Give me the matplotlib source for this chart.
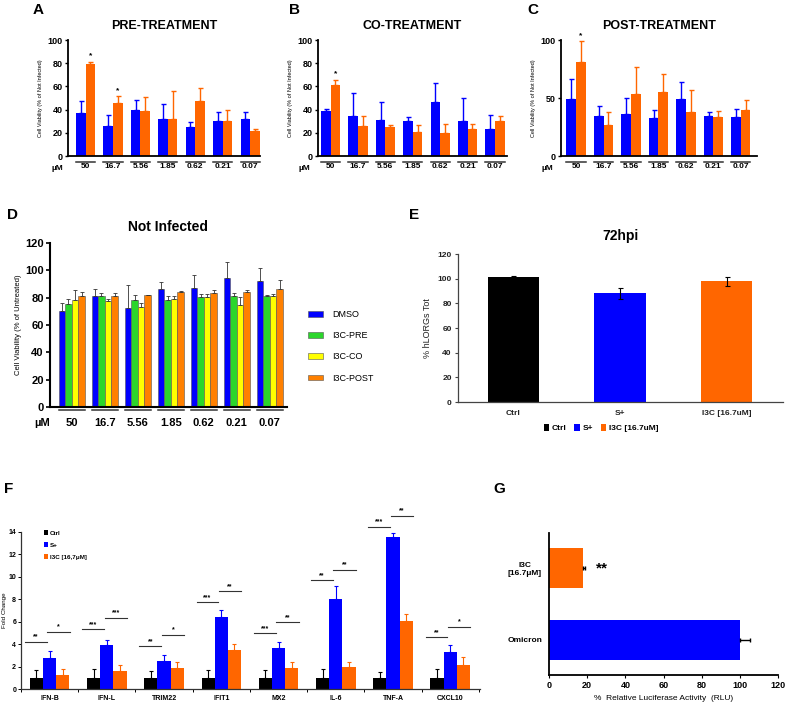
import matplotlib
matplotlib.use('Agg')
import matplotlib.pyplot as plt
from matplotlib.patches import Patch
import numpy as np

plt.rcParams['font.family'] = ['Liberation Sans', 'DejaVu Sans']
plt.rcParams['font.weight'] = 'bold'

# ---------------- data ----------------
conc_labels = ['50', '16.7', '5.56', '1.85', '0.62', '0.21', '0.07']

pre_dmso = [37.4, 26.0, 39.7, 31.7, 24.9, 30.3, 32.0]
pre_dmso_err = [9.7, 9.1, 8.3, 12.9, 4.8, 7.4, 5.7]
pre_i3c = [79.1, 45.7, 38.9, 32.0, 47.4, 30.3, 21.7]
pre_i3c_err = [2.0, 5.7, 12.2, 24.0, 11.2, 9.4, 1.2]
pre_stars = [0, 1]

co_dmso = [38.6, 34.9, 30.9, 30.0, 46.3, 30.3, 23.4]
co_dmso_err = [2.3, 19.1, 15.7, 3.4, 16.6, 20.0, 12.3]
co_i3c = [60.9, 25.7, 25.1, 20.6, 20.0, 23.1, 30.6]
co_i3c_err = [4.8, 9.2, 1.2, 6.5, 7.4, 4.9, 3.7]
co_stars = [0]

post_dmso = [49.1, 34.9, 36.6, 32.9, 48.9, 34.6, 33.7]
post_dmso_err = [17.5, 8.5, 13.4, 7.1, 14.8, 3.1, 7.2]
post_i3c = [81.4, 26.6, 53.7, 54.9, 38.0, 33.4, 40.0]
post_i3c_err = [17.5, 11.1, 23.4, 16.2, 18.6, 5.7, 8.6]
post_stars = [0]

ni_names = ['DMSO', 'I3C-PRE', 'I3C-CO', 'I3C-POST']
ni_dmso = [70.2, 81.5, 72.7, 86.6, 87.1, 94.1, 92.2]
ni_dmso_err = [5.9, 4.6, 16.3, 4.9, 9.2, 12.0, 9.8]
ni_pre = [75.4, 81.0, 78.0, 78.5, 80.7, 81.0, 81.2]
ni_pre_err = [3.4, 2.7, 3.7, 2.5, 2.2, 2.4, 0.5]
ni_co = [78.5, 77.6, 73.2, 78.8, 80.7, 74.6, 81.0]
ni_co_err = [7.4, 1.7, 2.9, 2.7, 2.0, 5.9, 1.4]
ni_post = [81.5, 81.0, 82.0, 84.4, 83.4, 83.9, 86.6]
ni_post_err = [2.4, 2.2, 0.3, 0.3, 2.0, 1.7, 6.3]

e_groups = ['Ctrl', 'S+', 'I3C [16.7uM]']
e_vals = [101.0, 88.0, 98.0]
e_err = [1.2, 4.8, 3.7]

genes = ['IFN-B', 'IFN-L', 'TRIM22', 'IFIT1', 'MX2', 'IL-6', 'TNF-A', 'CXCL10']
f_names = ['Ctrl', 'S+', 'I3C [16,7\u03bcM]']
f_ctrl = [1.0, 1.0, 1.0, 1.0, 1.0, 1.0, 1.0, 1.0]
f_ctrl_err = [0.65, 0.8, 0.6, 0.7, 0.65, 0.8, 0.55, 0.8]
f_splus = [2.75, 3.88, 2.46, 6.42, 3.64, 8.05, 13.55, 3.34]
f_splus_err = [0.62, 0.5, 0.53, 0.62, 0.56, 1.12, 0.38, 0.62]
f_i3c = [1.24, 1.6, 1.86, 3.46, 1.89, 1.92, 6.04, 2.13]
f_i3c_err = [0.56, 0.5, 0.51, 0.54, 0.51, 0.48, 0.65, 0.68]
sig_left = ['**', '***', '**', '***', '***', '**', '***', '**']
sig_right = ['*', '***', '*', '**', '**', '**', '**', '*']
sig_left_y = [4.23, 5.33, 3.79, 7.72, 4.97, 9.7, 14.44, 4.62]
sig_right_y = [5.12, 6.33, 4.82, 8.73, 5.95, 10.62, 15.47, 5.53]

g_labels = ['Omicron', 'I3C\n[16.7\u03bcM]']
g_vals = [100.0, 18.0]
g_err = [5.5, 0.7]

BLUE = '#0000FF'
ORANGE = '#FF6600'
ORANGE_D = '#FF8000'
GREEN = '#2BD62B'
YELLOW = '#FFFF00'

W, H = 788, 703
fig = plt.figure(figsize=(W / 100, H / 100), dpi=100)


def box(x0, x1, y0, y1):
    # pixel box -> figure fraction
    return [x0 / W, 1 - y1 / H, (x1 - x0) / W, (y1 - y0) / H]


def letter(x, y, s):
    fig.text(x / W, 1 - y / H, s, fontsize=11, fontweight='bold', ha='center', va='center')


def style_spines(ax, lw=1.3, color='black'):
    for s in ['top', 'right']:
        ax.spines[s].set_visible(False)
    for s in ['left', 'bottom']:
        ax.spines[s].set_linewidth(lw)
        ax.spines[s].set_color(color)


# ---------------- A, B, C ----------------
def treat_panel(rect, title, dmso, dmso_err, i3c, i3c_err, stars, xlim, yticks, tx):
    ax = fig.add_axes(rect)
    x = np.arange(len(conc_labels))
    w = 0.35
    ax.bar(x - w / 2, dmso, w, color=BLUE,
           yerr=[np.zeros(7), dmso_err], error_kw=dict(ecolor=BLUE, elinewidth=1, capsize=1.8, capthick=1))
    ax.bar(x + w / 2, i3c, w, color=ORANGE,
           yerr=[np.zeros(7), i3c_err], error_kw=dict(ecolor=ORANGE, elinewidth=1, capsize=1.8, capthick=1))
    for i in stars:
        ax.text(x[i] + w / 2, i3c[i] + i3c_err[i] + 5, '*', ha='center', va='center', fontsize=6)
    ax.set_xlim(*xlim)
    ax.set_ylim(0, 100)
    ax.set_yticks(yticks)
    ax.set_xticks(x)
    ax.set_xticklabels(conc_labels)
    ax.tick_params(axis='x', length=0, pad=5, labelsize=6)
    ax.tick_params(axis='y', length=2.5, width=1, labelsize=6.5, pad=1.5)
    style_spines(ax)
    ax.set_ylabel('Cell Viability (% of Not Infected)', fontsize=4, labelpad=3)
    ax.set_title(title, fontsize=9, fontweight='bold', pad=8)
    tr = ax.get_xaxis_transform()
    for xi in x:
        ax.plot([xi - w, xi + w], [-0.052, -0.052], color='#333333', lw=1.1,
                transform=tr, clip_on=False)
    ax.text(tx, -0.105, '\u00b5M', transform=ax.transAxes, fontsize=6, ha='center', va='center')
    return ax


treat_panel(box(68, 260, 40, 156), 'PRE-TREATMENT', pre_dmso, pre_dmso_err, pre_i3c, pre_i3c_err,
            pre_stars, (-0.64, 6.36), [0, 20, 40, 60, 80, 100], -0.057)
treat_panel(box(318, 507, 40, 156), 'CO-TREATMENT', co_dmso, co_dmso_err, co_i3c, co_i3c_err,
            co_stars, (-0.46, 6.44), [0, 20, 40, 60, 80, 100], -0.07)
treat_panel(box(561, 757, 40, 156), 'POST-TREATMENT', post_dmso, post_dmso_err, post_i3c, post_i3c_err,
            post_stars, (-0.55, 6.59), [0, 50, 100], -0.07)
letter(38, 10, 'A')
letter(294, 10, 'B')
letter(533, 10, 'C')

# ---------------- D ----------------
axd = fig.add_axes(box(50, 287, 243, 407))
x = np.arange(len(conc_labels))
bw = 0.2
d_series = [(ni_dmso, ni_dmso_err, BLUE), (ni_pre, ni_pre_err, GREEN),
            (ni_co, ni_co_err, YELLOW), (ni_post, ni_post_err, ORANGE_D)]
handles = []
for k, (vals, err, col) in enumerate(d_series):
    axd.bar(x + (k - 1.5) * bw, vals, bw, color=col, edgecolor='#555555', linewidth=0.4,
            yerr=[np.zeros(7), err], error_kw=dict(ecolor='#333333', elinewidth=0.6, capsize=1.3, capthick=0.6))
    handles.append(Patch(facecolor=col, edgecolor='#555555', linewidth=0.4, label=ni_names[k]))
axd.set_xlim(-0.66, 6.52)
axd.set_ylim(0, 120)
axd.set_yticks(np.arange(0, 121, 20))
axd.set_xticks(x)
axd.set_xticklabels(conc_labels)
axd.tick_params(axis='x', length=0, pad=8, labelsize=8)
axd.tick_params(axis='y', length=3, width=1.2, labelsize=8, pad=1.5)
style_spines(axd, lw=1.5)
axd.set_ylabel('Cell Viability (% of Untreated)', fontsize=5.5, labelpad=2)
axd.set_title('Not Infected', fontsize=10, fontweight='bold', pad=9)
trd = axd.get_xaxis_transform()
for xi in x:
    axd.plot([xi - 0.4, xi + 0.4], [-0.018, -0.018], color='#333333', lw=1.1,
             transform=trd, clip_on=False)
axd.text(-0.034, -0.1, '\u00b5M', transform=axd.transAxes, fontsize=8, ha='center', va='center')
fig.legend(handles=handles, loc='upper left', bbox_to_anchor=(308 / W, 1 - 310 / H), frameon=False,
           prop=dict(weight='normal', size=6.5), handlelength=1.7, handleheight=0.55,
           labelspacing=1.35, handletextpad=1.0, borderpad=0, borderaxespad=0)
letter(13, 215, 'D')

# ---------------- E ----------------
axe = fig.add_axes(box(458, 783, 254, 402))
e_colors = ['black', BLUE, ORANGE]
xe = np.arange(3)
axe.bar(xe, e_vals, 0.48, color=e_colors, yerr=e_err,
        error_kw=dict(ecolor='black', elinewidth=0.8, capsize=1.8, capthick=0.8))
axe.set_xlim(-0.52, 2.53)
axe.set_ylim(0, 120)
axe.set_yticks(np.arange(0, 121, 20))
axe.set_xticks(xe)
axe.set_xticklabels(e_groups)
axe.tick_params(axis='x', length=0, pad=6, labelsize=6, labelcolor='#222222')
axe.tick_params(axis='y', length=2.5, width=0.8, labelsize=6, pad=2, labelcolor='#222222', color='#444444')
style_spines(axe, lw=0.9, color='#444444')
axe.set_ylabel('% hLORGs Tot', fontsize=6.5, labelpad=4, color='#222222')
axe.set_title('72hpi', fontsize=10, fontweight='bold', pad=10)
e_handles = [Patch(facecolor=c, label=n) for c, n in zip(e_colors, e_groups)]
axe.legend(handles=e_handles, loc='center', bbox_to_anchor=(0.44, -0.176), ncol=3, frameon=False,
           fontsize=6, handlelength=0.7, handleheight=0.9, handletextpad=0.3, columnspacing=0.9,
           borderpad=0)
letter(414, 215, 'E')

# ---------------- F ----------------
axf = fig.add_axes(box(21, 480, 532, 689))
xf = np.arange(len(genes))
fw = 0.23
f_series = [(f_ctrl, f_ctrl_err, 'black'), (f_splus, f_splus_err, BLUE), (f_i3c, f_i3c_err, ORANGE)]
f_handles = []
for k, (vals, err, col) in enumerate(f_series):
    axf.bar(xf + (k - 1) * fw, vals, fw, color=col,
            yerr=[np.zeros(len(genes)), err], error_kw=dict(ecolor=col, elinewidth=0.8, capsize=1.2, capthick=0.8))
    f_handles.append(Patch(facecolor=col, label=f_names[k]))
for i in range(len(genes)):
    axf.plot([xf[i] - 0.43, xf[i] - 0.05], [sig_left_y[i]] * 2, color='#333333', lw=0.8, clip_on=False)
    axf.text(xf[i] - 0.24, sig_left_y[i] + 0.12, sig_left[i], ha='center', va='bottom', fontsize=5)
    axf.plot([xf[i] - 0.04, xf[i] + 0.35], [sig_right_y[i]] * 2, color='#333333', lw=0.8, clip_on=False)
    axf.text(xf[i] + 0.155, sig_right_y[i] + 0.12, sig_right[i], ha='center', va='bottom', fontsize=5)
axf.set_xlim(-0.48, 7.52)
axf.set_ylim(0, 14)
axf.set_yticks(np.arange(0, 15, 2))
axf.set_xticks(xf)
axf.set_xticklabels(genes)
axf.set_xticks(np.arange(-0.5, 8, 1), minor=True)
axf.tick_params(axis='x', which='major', length=0, pad=4, labelsize=5)
axf.tick_params(axis='x', which='minor', length=2.5, width=0.7)
axf.tick_params(axis='y', length=2, width=0.7, labelsize=5, pad=1.5)
style_spines(axf, lw=0.9, color='#333333')
axf.set_ylabel('Fold Change', fontsize=4.5, labelpad=1)
axf.legend(handles=f_handles, loc='upper left', bbox_to_anchor=(0.05, 1.01), frameon=False,
           fontsize=4.5, handlelength=0.6, handleheight=0.8, handletextpad=0.3, labelspacing=1.0,
           borderpad=0, borderaxespad=0)
letter(9, 489, 'F')

# ---------------- G ----------------
axg = fig.add_axes(box(549, 778, 533, 675))
yg = np.arange(2)
axg.barh(yg, g_vals, 0.56, color=[BLUE, ORANGE],
         xerr=[np.zeros(2), g_err], error_kw=dict(ecolor='black', elinewidth=1, capsize=1.3, capthick=1))
axg.text(28, yg[1], '**', ha='center', va='center', fontsize=11)
axg.set_xlim(0, 120)
axg.set_ylim(-0.49, 1.49)
axg.set_xticks(np.arange(0, 121, 20))
axg.set_yticks(yg)
axg.set_yticklabels(g_labels, multialignment='center')
axg.tick_params(axis='y', length=0, pad=5, labelsize=6)
axg.tick_params(axis='x', length=2, width=0.8, labelsize=6.5, pad=2)
style_spines(axg, lw=1.3)
axg.set_xlabel('%  Relative Luciferase Activity  (RLU)', fontsize=6, labelpad=4)
letter(499, 489, 'G')

fig.savefig('out.png', dpi=100)
